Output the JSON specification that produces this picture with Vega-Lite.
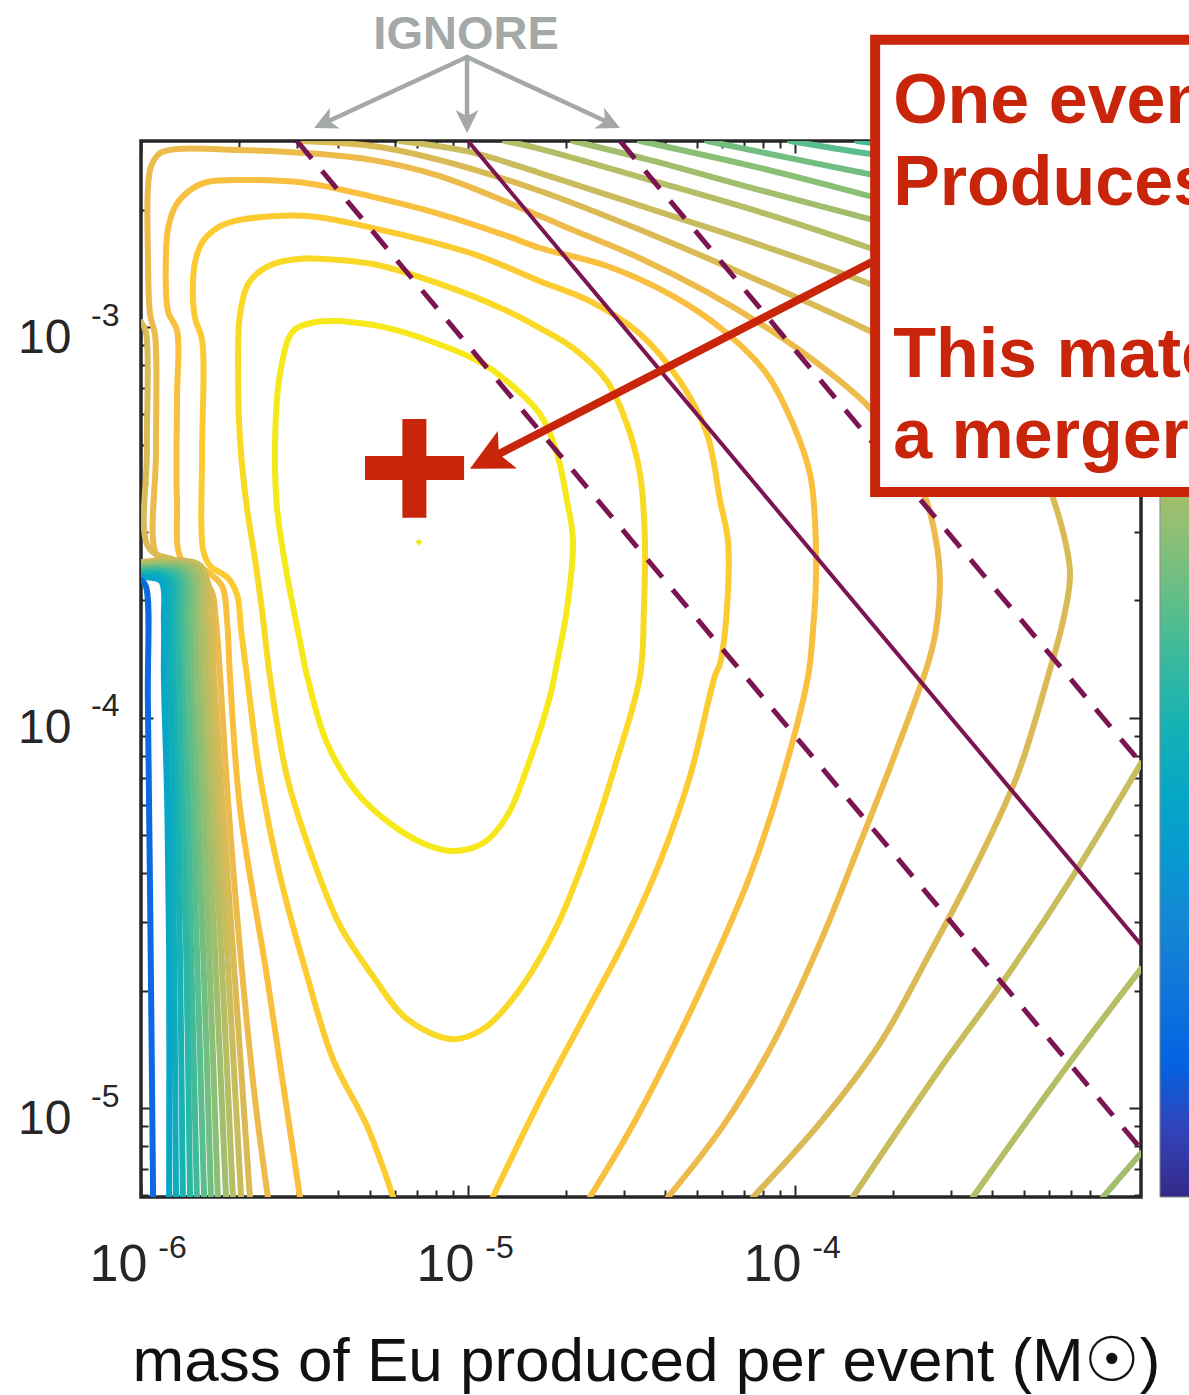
{
  "$schema": "https://vega.github.io/schema/vega-lite/v6.json",
  "width": 1000,
  "height": 1056,
  "autosize": {"type": "none"},
  "padding": {"left": 141, "top": 141, "right": 48, "bottom": 198},
  "background": "white",
  "config": {
    "view": {"stroke": "#262626", "strokeWidth": 3.5},
    "axis": {"domain": false, "grid": false, "labelFont": "Liberation Sans", "titleFont": "Liberation Sans", "labelColor": "#262626", "tickColor": "#262626", "tickWidth": 2, "labelFlush": false, "labelOverlap": false, "labelBound": false},
    "text": {"font": "Liberation Sans"}
  },
  "datasets": {
    "contours": [
      {"c":"C1","lv":0.96,"m":-5.391,"r":-2.984},{"c":"C1","lv":0.96,"m":-5.260,"r":-2.999},{"c":"C1","lv":0.96,"m":-5.116,"r":-3.035},{"c":"C1","lv":0.96,"m":-4.963,"r":-3.089},{"c":"C1","lv":0.96,"m":-4.881,"r":-3.138},{"c":"C1","lv":0.96,"m":-4.780,"r":-3.222},{"c":"C1","lv":0.96,"m":-4.731,"r":-3.314},{"c":"C1","lv":0.96,"m":-4.697,"r":-3.445},{"c":"C1","lv":0.96,"m":-4.679,"r":-3.547},{"c":"C1","lv":0.96,"m":-4.697,"r":-3.719},{"c":"C1","lv":0.96,"m":-4.728,"r":-3.860},{"c":"C1","lv":0.96,"m":-4.749,"r":-3.944},{"c":"C1","lv":0.96,"m":-4.810,"r":-4.106},{"c":"C1","lv":0.96,"m":-4.881,"r":-4.252},{"c":"C1","lv":0.96,"m":-4.954,"r":-4.321},{"c":"C1","lv":0.96,"m":-5.049,"r":-4.341},{"c":"C1","lv":0.96,"m":-5.138,"r":-4.321},{"c":"C1","lv":0.96,"m":-5.239,"r":-4.270},{"c":"C1","lv":0.96,"m":-5.339,"r":-4.193},{"c":"C1","lv":0.96,"m":-5.431,"r":-4.065},{"c":"C1","lv":0.96,"m":-5.492,"r":-3.893},{"c":"C1","lv":0.96,"m":-5.514,"r":-3.803},{"c":"C1","lv":0.96,"m":-5.554,"r":-3.632},{"c":"C1","lv":0.96,"m":-5.584,"r":-3.463},{"c":"C1","lv":0.96,"m":-5.590,"r":-3.291},{"c":"C1","lv":0.96,"m":-5.575,"r":-3.120},{"c":"C1","lv":0.96,"m":-5.535,"r":-3.010},{"c":"C1","lv":0.96,"m":-5.468,"r":-2.987},{"c":"C1","lv":0.96,"m":-5.391,"r":-2.984},

      {"c":"C2","lv":0.92,"m":-5.492,"r":-2.823},{"c":"C2","lv":0.92,"m":-5.291,"r":-2.838},{"c":"C2","lv":0.92,"m":-5.086,"r":-2.889},{"c":"C2","lv":0.92,"m":-4.881,"r":-2.958},{"c":"C2","lv":0.92,"m":-4.780,"r":-3.002},{"c":"C2","lv":0.92,"m":-4.679,"r":-3.053},{"c":"C2","lv":0.92,"m":-4.575,"r":-3.138},{"c":"C2","lv":0.92,"m":-4.514,"r":-3.248},{"c":"C2","lv":0.92,"m":-4.474,"r":-3.376},{"c":"C2","lv":0.92,"m":-4.459,"r":-3.547},{"c":"C2","lv":0.92,"m":-4.462,"r":-3.719},{"c":"C2","lv":0.92,"m":-4.474,"r":-3.893},{"c":"C2","lv":0.92,"m":-4.544,"r":-4.106},{"c":"C2","lv":0.92,"m":-4.627,"r":-4.321},{"c":"C2","lv":0.92,"m":-4.728,"r":-4.533},{"c":"C2","lv":0.92,"m":-4.850,"r":-4.705},{"c":"C2","lv":0.92,"m":-4.954,"r":-4.797},{"c":"C2","lv":0.92,"m":-5.049,"r":-4.823},{"c":"C2","lv":0.92,"m":-5.187,"r":-4.771},{"c":"C2","lv":0.92,"m":-5.291,"r":-4.661},{"c":"C2","lv":0.92,"m":-5.391,"r":-4.533},{"c":"C2","lv":0.92,"m":-5.474,"r":-4.362},{"c":"C2","lv":0.92,"m":-5.554,"r":-4.149},{"c":"C2","lv":0.92,"m":-5.606,"r":-3.893},{"c":"C2","lv":0.92,"m":-5.630,"r":-3.724},{"c":"C2","lv":0.92,"m":-5.651,"r":-3.596},{"c":"C2","lv":0.92,"m":-5.676,"r":-3.463},{"c":"C2","lv":0.92,"m":-5.697,"r":-3.291},{"c":"C2","lv":0.92,"m":-5.703,"r":-3.120},{"c":"C2","lv":0.92,"m":-5.697,"r":-2.966},{"c":"C2","lv":0.92,"m":-5.667,"r":-2.882},{"c":"C2","lv":0.92,"m":-5.596,"r":-2.838},{"c":"C2","lv":0.92,"m":-5.492,"r":-2.823},

      {"c":"C3","lv":0.88,"m":-5.229,"r":-5.227},{"c":"C3","lv":0.88,"m":-5.309,"r":-5.045},{"c":"C3","lv":0.88,"m":-5.413,"r":-4.874},{"c":"C3","lv":0.88,"m":-5.492,"r":-4.661},{"c":"C3","lv":0.88,"m":-5.575,"r":-4.405},{"c":"C3","lv":0.88,"m":-5.636,"r":-4.149},{"c":"C3","lv":0.88,"m":-5.676,"r":-3.893},{"c":"C3","lv":0.88,"m":-5.694,"r":-3.775},{"c":"C3","lv":0.88,"m":-5.706,"r":-3.686},{"c":"C3","lv":0.88,"m":-5.734,"r":-3.642},{"c":"C3","lv":0.88,"m":-5.789,"r":-3.611},{"c":"C3","lv":0.88,"m":-5.810,"r":-3.570},{"c":"C3","lv":0.88,"m":-5.813,"r":-3.314},{"c":"C3","lv":0.88,"m":-5.813,"r":-3.033},{"c":"C3","lv":0.88,"m":-5.835,"r":-2.976},{"c":"C3","lv":0.88,"m":-5.841,"r":-2.882},{"c":"C3","lv":0.88,"m":-5.832,"r":-2.823},{"c":"C3","lv":0.88,"m":-5.810,"r":-2.779},{"c":"C3","lv":0.88,"m":-5.758,"r":-2.741},{"c":"C3","lv":0.88,"m":-5.697,"r":-2.725},{"c":"C3","lv":0.88,"m":-5.492,"r":-2.715},{"c":"C3","lv":0.88,"m":-5.291,"r":-2.746},{"c":"C3","lv":0.88,"m":-4.985,"r":-2.812},{"c":"C3","lv":0.88,"m":-4.780,"r":-2.882},{"c":"C3","lv":0.88,"m":-4.627,"r":-2.933},{"c":"C3","lv":0.88,"m":-4.474,"r":-3.017},{"c":"C3","lv":0.88,"m":-4.352,"r":-3.138},{"c":"C3","lv":0.88,"m":-4.269,"r":-3.273},{"c":"C3","lv":0.88,"m":-4.229,"r":-3.445},{"c":"C3","lv":0.88,"m":-4.205,"r":-3.547},{"c":"C3","lv":0.88,"m":-4.208,"r":-3.719},{"c":"C3","lv":0.88,"m":-4.229,"r":-3.860},{"c":"C3","lv":0.88,"m":-4.245,"r":-3.893},{"c":"C3","lv":0.88,"m":-4.321,"r":-4.149},{"c":"C3","lv":0.88,"m":-4.413,"r":-4.369},{"c":"C3","lv":0.88,"m":-4.520,"r":-4.569},{"c":"C3","lv":0.88,"m":-4.642,"r":-4.761},{"c":"C3","lv":0.88,"m":-4.780,"r":-4.979},{"c":"C3","lv":0.88,"m":-4.924,"r":-5.227},

      {"c":"C4","lv":0.84,"m":-5.514,"r":-5.227},{"c":"C4","lv":0.84,"m":-5.554,"r":-5.002},{"c":"C4","lv":0.84,"m":-5.615,"r":-4.661},{"c":"C4","lv":0.84,"m":-5.697,"r":-4.234},{"c":"C4","lv":0.84,"m":-5.728,"r":-3.893},{"c":"C4","lv":0.84,"m":-5.737,"r":-3.750},{"c":"C4","lv":0.84,"m":-5.752,"r":-3.663},{"c":"C4","lv":0.84,"m":-5.804,"r":-3.622},{"c":"C4","lv":0.84,"m":-5.875,"r":-3.596},{"c":"C4","lv":0.84,"m":-5.890,"r":-3.442},{"c":"C4","lv":0.84,"m":-5.890,"r":-3.186},{"c":"C4","lv":0.84,"m":-5.890,"r":-3.007},{"c":"C4","lv":0.84,"m":-5.917,"r":-2.961},{"c":"C4","lv":0.84,"m":-5.924,"r":-2.828},{"c":"C4","lv":0.84,"m":-5.917,"r":-2.746},{"c":"C4","lv":0.84,"m":-5.893,"r":-2.687},{"c":"C4","lv":0.84,"m":-5.850,"r":-2.649},{"c":"C4","lv":0.84,"m":-5.798,"r":-2.628},{"c":"C4","lv":0.84,"m":-5.667,"r":-2.623},{"c":"C4","lv":0.84,"m":-5.492,"r":-2.631},{"c":"C4","lv":0.84,"m":-5.291,"r":-2.666},{"c":"C4","lv":0.84,"m":-5.086,"r":-2.710},{"c":"C4","lv":0.84,"m":-4.881,"r":-2.766},{"c":"C4","lv":0.84,"m":-4.780,"r":-2.797},{"c":"C4","lv":0.84,"m":-4.575,"r":-2.843},{"c":"C4","lv":0.84,"m":-4.373,"r":-2.920},{"c":"C4","lv":0.84,"m":-4.220,"r":-3.007},{"c":"C4","lv":0.84,"m":-4.086,"r":-3.120},{"c":"C4","lv":0.84,"m":-4.006,"r":-3.248},{"c":"C4","lv":0.84,"m":-3.954,"r":-3.376},{"c":"C4","lv":0.84,"m":-3.939,"r":-3.494},{"c":"C4","lv":0.84,"m":-3.936,"r":-3.647},{"c":"C4","lv":0.84,"m":-3.945,"r":-3.775},{"c":"C4","lv":0.84,"m":-3.960,"r":-3.893},{"c":"C4","lv":0.84,"m":-4.037,"r":-4.149},{"c":"C4","lv":0.84,"m":-4.138,"r":-4.405},{"c":"C4","lv":0.84,"m":-4.269,"r":-4.661},{"c":"C4","lv":0.84,"m":-4.391,"r":-4.874},{"c":"C4","lv":0.84,"m":-4.505,"r":-5.056},{"c":"C4","lv":0.84,"m":-4.627,"r":-5.227},

      {"c":"C5","lv":0.80,"m":-5.612,"r":-5.227},{"c":"C5","lv":0.80,"m":-5.651,"r":-4.979},{"c":"C5","lv":0.80,"m":-5.697,"r":-4.595},{"c":"C5","lv":0.80,"m":-5.734,"r":-4.211},{"c":"C5","lv":0.80,"m":-5.758,"r":-3.893},{"c":"C5","lv":0.80,"m":-5.771,"r":-3.750},{"c":"C5","lv":0.80,"m":-5.783,"r":-3.678},{"c":"C5","lv":0.80,"m":-5.820,"r":-3.637},{"c":"C5","lv":0.80,"m":-5.896,"r":-3.611},{"c":"C5","lv":0.80,"m":-5.951,"r":-3.586},{"c":"C5","lv":0.80,"m":-5.954,"r":-3.314},{"c":"C5","lv":0.80,"m":-5.957,"r":-3.020},{"c":"C5","lv":0.80,"m":-5.972,"r":-2.969},{"c":"C5","lv":0.80,"m":-5.979,"r":-2.802},{"c":"C5","lv":0.80,"m":-5.979,"r":-2.649},{"c":"C5","lv":0.80,"m":-5.969,"r":-2.587},{"c":"C5","lv":0.80,"m":-5.942,"r":-2.554},{"c":"C5","lv":0.80,"m":-5.896,"r":-2.544},{"c":"C5","lv":0.80,"m":-5.697,"r":-2.546},{"c":"C5","lv":0.80,"m":-5.492,"r":-2.554},{"c":"C5","lv":0.80,"m":-5.291,"r":-2.572},{"c":"C5","lv":0.80,"m":-5.086,"r":-2.613},{"c":"C5","lv":0.80,"m":-4.780,"r":-2.715},{"c":"C5","lv":0.80,"m":-4.679,"r":-2.751},{"c":"C5","lv":0.80,"m":-4.474,"r":-2.823},{"c":"C5","lv":0.80,"m":-4.269,"r":-2.910},{"c":"C5","lv":0.80,"m":-4.076,"r":-3.007},{"c":"C5","lv":0.80,"m":-3.924,"r":-3.097},{"c":"C5","lv":0.80,"m":-3.771,"r":-3.207},{"c":"C5","lv":0.80,"m":-3.679,"r":-3.314},{"c":"C5","lv":0.80,"m":-3.602,"r":-3.435},{"c":"C5","lv":0.80,"m":-3.569,"r":-3.545},{"c":"C5","lv":0.80,"m":-3.557,"r":-3.647},{"c":"C5","lv":0.80,"m":-3.569,"r":-3.775},{"c":"C5","lv":0.80,"m":-3.593,"r":-3.860},{"c":"C5","lv":0.80,"m":-3.700,"r":-4.106},{"c":"C5","lv":0.80,"m":-3.801,"r":-4.321},{"c":"C5","lv":0.80,"m":-3.924,"r":-4.577},{"c":"C5","lv":0.80,"m":-4.067,"r":-4.833},{"c":"C5","lv":0.80,"m":-4.220,"r":-5.045},{"c":"C5","lv":0.80,"m":-4.388,"r":-5.227},

      {"c":"C6t","lv":0.765,"m":-5.514,"r":-2.523},{"c":"C6t","lv":0.765,"m":-5.291,"r":-2.536},{"c":"C6t","lv":0.765,"m":-5.086,"r":-2.572},{"c":"C6t","lv":0.765,"m":-4.780,"r":-2.651},{"c":"C6t","lv":0.765,"m":-4.443,"r":-2.761},{"c":"C6t","lv":0.765,"m":-4.107,"r":-2.882},{"c":"C6t","lv":0.765,"m":-3.771,"r":-3.010},{"c":"C6t","lv":0.765,"m":-3.557,"r":-3.109},{"c":"C6t","lv":0.765,"m":-3.373,"r":-3.238},{"c":"C6t","lv":0.765,"m":-3.251,"r":-3.360},{"c":"C6t","lv":0.765,"m":-3.190,"r":-3.494},{"c":"C6t","lv":0.765,"m":-3.159,"r":-3.632},{"c":"C6t","lv":0.765,"m":-3.180,"r":-3.750},{"c":"C6t","lv":0.765,"m":-3.226,"r":-3.893},{"c":"C6t","lv":0.765,"m":-3.321,"r":-4.149},{"c":"C6t","lv":0.765,"m":-3.443,"r":-4.372},{"c":"C6t","lv":0.765,"m":-3.587,"r":-4.602},{"c":"C6t","lv":0.765,"m":-3.740,"r":-4.833},{"c":"C6t","lv":0.765,"m":-3.924,"r":-5.038},{"c":"C6t","lv":0.765,"m":-4.128,"r":-5.227},

      {"c":"C6l","lv":0.765,"m":-6.000,"r":-2.987},{"c":"C6l","lv":0.765,"m":-5.985,"r":-3.012},{"c":"C6l","lv":0.765,"m":-5.982,"r":-3.314},{"c":"C6l","lv":0.765,"m":-5.976,"r":-3.565},{"c":"C6l","lv":0.765,"m":-5.896,"r":-3.596},{"c":"C6l","lv":0.765,"m":-5.820,"r":-3.617},{"c":"C6l","lv":0.765,"m":-5.789,"r":-3.673},{"c":"C6l","lv":0.765,"m":-5.777,"r":-3.893},{"c":"C6l","lv":0.765,"m":-5.752,"r":-4.211},{"c":"C6l","lv":0.765,"m":-5.719,"r":-4.595},{"c":"C6l","lv":0.765,"m":-5.667,"r":-5.227},

      {"c":"C7l","lv":0.73,"m":-6.000,"r":-3.601},{"c":"C7l","lv":0.73,"m":-5.817,"r":-3.611},{"c":"C7l","lv":0.73,"m":-5.798,"r":-3.750},{"c":"C7l","lv":0.73,"m":-5.789,"r":-3.893},{"c":"C7l","lv":0.73,"m":-5.768,"r":-4.211},{"c":"C7l","lv":0.73,"m":-5.737,"r":-4.595},{"c":"C7l","lv":0.73,"m":-5.694,"r":-5.227},
      {"c":"C8l","lv":0.695,"m":-6.000,"r":-3.606},{"c":"C8l","lv":0.695,"m":-5.829,"r":-3.617},{"c":"C8l","lv":0.695,"m":-5.810,"r":-3.750},{"c":"C8l","lv":0.695,"m":-5.804,"r":-3.893},{"c":"C8l","lv":0.695,"m":-5.783,"r":-4.211},{"c":"C8l","lv":0.695,"m":-5.755,"r":-4.595},{"c":"C8l","lv":0.695,"m":-5.719,"r":-5.227},
      {"c":"C9l","lv":0.66,"m":-6.000,"r":-3.609},{"c":"C9l","lv":0.66,"m":-5.841,"r":-3.619},{"c":"C9l","lv":0.66,"m":-5.826,"r":-3.750},{"c":"C9l","lv":0.66,"m":-5.820,"r":-3.893},{"c":"C9l","lv":0.66,"m":-5.798,"r":-4.211},{"c":"C9l","lv":0.66,"m":-5.774,"r":-4.595},{"c":"C9l","lv":0.66,"m":-5.740,"r":-5.227},
      {"c":"C10l","lv":0.625,"m":-6.000,"r":-3.614},{"c":"C10l","lv":0.625,"m":-5.853,"r":-3.624},{"c":"C10l","lv":0.625,"m":-5.838,"r":-3.750},{"c":"C10l","lv":0.625,"m":-5.832,"r":-3.893},{"c":"C10l","lv":0.625,"m":-5.813,"r":-4.211},{"c":"C10l","lv":0.625,"m":-5.792,"r":-4.595},{"c":"C10l","lv":0.625,"m":-5.765,"r":-5.227},
      {"c":"C11l","lv":0.59,"m":-6.000,"r":-3.617},{"c":"C11l","lv":0.59,"m":-5.865,"r":-3.627},{"c":"C11l","lv":0.59,"m":-5.850,"r":-3.750},{"c":"C11l","lv":0.59,"m":-5.847,"r":-3.893},{"c":"C11l","lv":0.59,"m":-5.829,"r":-4.211},{"c":"C11l","lv":0.59,"m":-5.810,"r":-4.595},{"c":"C11l","lv":0.59,"m":-5.786,"r":-5.227},
      {"c":"C12l","lv":0.555,"m":-6.000,"r":-3.622},{"c":"C12l","lv":0.555,"m":-5.878,"r":-3.632},{"c":"C12l","lv":0.555,"m":-5.865,"r":-3.750},{"c":"C12l","lv":0.555,"m":-5.859,"r":-3.893},{"c":"C12l","lv":0.555,"m":-5.844,"r":-4.211},{"c":"C12l","lv":0.555,"m":-5.829,"r":-4.595},{"c":"C12l","lv":0.555,"m":-5.807,"r":-5.227},
      {"c":"C13l","lv":0.52,"m":-6.000,"r":-3.624},{"c":"C13l","lv":0.52,"m":-5.890,"r":-3.634},{"c":"C13l","lv":0.52,"m":-5.878,"r":-3.750},{"c":"C13l","lv":0.52,"m":-5.875,"r":-3.893},{"c":"C13l","lv":0.52,"m":-5.859,"r":-4.211},{"c":"C13l","lv":0.52,"m":-5.847,"r":-4.595},{"c":"C13l","lv":0.52,"m":-5.829,"r":-5.227},
      {"c":"C14l","lv":0.485,"m":-6.000,"r":-3.629},{"c":"C14l","lv":0.485,"m":-5.902,"r":-3.640},{"c":"C14l","lv":0.485,"m":-5.890,"r":-3.750},{"c":"C14l","lv":0.485,"m":-5.887,"r":-3.893},{"c":"C14l","lv":0.485,"m":-5.875,"r":-4.211},{"c":"C14l","lv":0.485,"m":-5.862,"r":-4.595},{"c":"C14l","lv":0.485,"m":-5.850,"r":-5.227},
      {"c":"C15l","lv":0.45,"m":-6.000,"r":-3.632},{"c":"C15l","lv":0.45,"m":-5.914,"r":-3.642},{"c":"C15l","lv":0.45,"m":-5.905,"r":-3.750},{"c":"C15l","lv":0.45,"m":-5.902,"r":-3.893},{"c":"C15l","lv":0.45,"m":-5.890,"r":-4.211},{"c":"C15l","lv":0.45,"m":-5.881,"r":-4.595},{"c":"C15l","lv":0.45,"m":-5.872,"r":-5.227},
      {"c":"C16l","lv":0.415,"m":-6.000,"r":-3.637},{"c":"C16l","lv":0.415,"m":-5.927,"r":-3.647},{"c":"C16l","lv":0.415,"m":-5.917,"r":-3.750},{"c":"C16l","lv":0.415,"m":-5.914,"r":-3.893},{"c":"C16l","lv":0.415,"m":-5.905,"r":-4.211},{"c":"C16l","lv":0.415,"m":-5.899,"r":-4.595},{"c":"C16l","lv":0.415,"m":-5.893,"r":-5.227},
      {"c":"C17l","lv":0.38,"m":-6.000,"r":-3.640},{"c":"C17l","lv":0.38,"m":-5.939,"r":-3.650},{"c":"C17l","lv":0.38,"m":-5.930,"r":-3.750},{"c":"C17l","lv":0.38,"m":-5.930,"r":-3.893},{"c":"C17l","lv":0.38,"m":-5.920,"r":-4.211},{"c":"C17l","lv":0.38,"m":-5.914,"r":-4.595},{"c":"C17l","lv":0.38,"m":-5.914,"r":-5.227},
      {"c":"C18l","lv":0.16,"m":-6.000,"r":-3.647},{"c":"C18l","lv":0.16,"m":-5.985,"r":-3.663},{"c":"C18l","lv":0.16,"m":-5.979,"r":-3.955},{"c":"C18l","lv":0.16,"m":-5.972,"r":-4.467},{"c":"C18l","lv":0.16,"m":-5.963,"r":-5.227},

      {"c":"C7t","lv":0.73,"m":-5.208,"r":-2.523},{"c":"C7t","lv":0.73,"m":-4.994,"r":-2.551},{"c":"C7t","lv":0.73,"m":-4.780,"r":-2.605},{"c":"C7t","lv":0.73,"m":-4.443,"r":-2.697},{"c":"C7t","lv":0.73,"m":-4.107,"r":-2.789},{"c":"C7t","lv":0.73,"m":-3.771,"r":-2.889},{"c":"C7t","lv":0.73,"m":-3.373,"r":-3.033},{"c":"C7t","lv":0.73,"m":-2.942,"r":-3.238},
      {"c":"C7b","lv":0.73,"m":-2.942,"r":-4.116},{"c":"C7b","lv":0.73,"m":-3.150,"r":-4.405},{"c":"C7b","lv":0.73,"m":-3.352,"r":-4.661},{"c":"C7b","lv":0.73,"m":-3.557,"r":-4.899},{"c":"C7b","lv":0.73,"m":-3.823,"r":-5.227},
      {"c":"C8t","lv":0.695,"m":-4.887,"r":-2.523},{"c":"C8t","lv":0.695,"m":-4.780,"r":-2.543},{"c":"C8t","lv":0.695,"m":-4.443,"r":-2.623},{"c":"C8t","lv":0.695,"m":-4.107,"r":-2.705},{"c":"C8t","lv":0.695,"m":-3.771,"r":-2.797},{"c":"C8t","lv":0.695,"m":-3.373,"r":-2.917},{"c":"C8t","lv":0.695,"m":-2.942,"r":-3.058},
      {"c":"C8b","lv":0.695,"m":-2.942,"r":-4.643},{"c":"C8b","lv":0.695,"m":-3.168,"r":-4.892},{"c":"C8b","lv":0.695,"m":-3.456,"r":-5.227},
      {"c":"C9t","lv":0.66,"m":-4.679,"r":-2.523},{"c":"C9t","lv":0.66,"m":-4.443,"r":-2.572},{"c":"C9t","lv":0.66,"m":-4.107,"r":-2.649},{"c":"C9t","lv":0.66,"m":-3.771,"r":-2.723},{"c":"C9t","lv":0.66,"m":-3.373,"r":-2.815},{"c":"C9t","lv":0.66,"m":-2.942,"r":-2.930},
      {"c":"C9b","lv":0.66,"m":-2.942,"r":-5.115},{"c":"C9b","lv":0.66,"m":-3.058,"r":-5.227},
      {"c":"C10t","lv":0.625,"m":-4.474,"r":-2.523},{"c":"C10t","lv":0.625,"m":-4.107,"r":-2.592},{"c":"C10t","lv":0.625,"m":-3.771,"r":-2.664},{"c":"C10t","lv":0.625,"m":-3.373,"r":-2.751},{"c":"C10t","lv":0.625,"m":-2.942,"r":-2.841},
      {"c":"C11t","lv":0.59,"m":-4.269,"r":-2.523},{"c":"C11t","lv":0.59,"m":-4.015,"r":-2.567},{"c":"C11t","lv":0.59,"m":-3.771,"r":-2.608},{"c":"C11t","lv":0.59,"m":-3.373,"r":-2.674},{"c":"C11t","lv":0.59,"m":-2.942,"r":-2.746},
      {"c":"C12t","lv":0.555,"m":-4.015,"r":-2.523},{"c":"C12t","lv":0.555,"m":-3.771,"r":-2.556},{"c":"C12t","lv":0.555,"m":-3.373,"r":-2.602},{"c":"C12t","lv":0.555,"m":-2.942,"r":-2.654},
      {"c":"C13t","lv":0.52,"m":-3.810,"r":-2.523},{"c":"C13t","lv":0.52,"m":-3.373,"r":-2.567},{"c":"C13t","lv":0.52,"m":-2.942,"r":-2.602}
    ],
    "guides": [
      {"k":"solid","m":-5.0,"r":-2.523},{"k":"solid","m":-2.942,"r":-4.581},
      {"k":"dashL","m":-5.523,"r":-2.523},{"k":"dashL","m":-2.942,"r":-5.104},
      {"k":"dashR","m":-4.535,"r":-2.523},{"k":"dashR","m":-2.942,"r":-4.116}
    ],
    "peak": [{"m":-5.150,"r":-3.550}],
    "best": [
      {"bar":"h","m0":-5.315,"m1":-5.012,"r0":-3.360,"r1":-3.360},
      {"bar":"v","m0":-5.164,"m1":-5.164,"r0":-3.235,"r1":-3.488}
    ],
    "pointer": [{"m0":-3.765,"r0":-2.833,"m1":-4.937,"r1":-3.338,"heading":243}],
    "ignore": [
      {"a":"L","m0":-5.003,"r0":-2.308,"m1":-5.439,"r1":-2.477,"heading":245},
      {"a":"M","m0":-5.003,"r0":-2.308,"m1":-5.003,"r1":-2.473,"heading":180},
      {"a":"R","m0":-5.003,"r0":-2.308,"m1":-4.567,"r1":-2.477,"heading":115}
    ],
    "ignoreLabel": [{"t":"IGNORE","m":-5.006,"r":-2.287}],
    "colorbar": [{"m0":-2.884,"m1":-2.746,"r0":-5.227,"r1":-2.523}],
    "box": [{"m0":-3.755,"m1":-2.456,"r0":-2.264,"r1":-3.422}],
    "boxText": [
      {"t":"One event","m":-3.700,"r":-2.477},
      {"t":"Produces","m":-3.700,"r":-2.687},
      {"t":"This matches","m":-3.700,"r":-3.127},
      {"t":"a merger","m":-3.700,"r":-3.335}
    ]
  },
  "layer": [
    {
      "data": {"name": "contours"},
      "mark": {"type": "line", "strokeWidth": 6, "strokeJoin": "round", "strokeCap": "round", "interpolate": "catmull-rom", "clip": true},
      "encoding": {
        "x": {"field": "m", "type": "quantitative", "scale": {"domain": [-6, -2.942], "nice": false, "zero": false},
          "axis": {"orient": "bottom",
            "values": [-6,-5.699,-5.523,-5.398,-5.301,-5.222,-5.155,-5.097,-5.046,-5,-4.699,-4.523,-4.398,-4.301,-4.222,-4.155,-4.097,-4.046,-4,-3.699,-3.523,-3.398,-3.301,-3.222,-3.155,-3.097,-3.046],
            "labelExpr": "datum.value % 1 == 0 ? '10' : ''",
            "labelFontSize": 52, "labelAlign": "center", "labelBaseline": "alphabetic", "labelOffset": -23, "labelPadding": 95,
            "tickSize": {"condition": {"test": "datum.value % 1 == 0", "value": -12}, "value": -7},
            "title": "mass of Eu produced per event (M☉)", "titleFontSize": 62, "titleFontWeight": "normal", "titleColor": "#111111",
            "titleBaseline": "alphabetic", "titleY": 183, "titleX": 505}},
        "y": {"field": "r", "type": "quantitative", "scale": {"domain": [-5.227, -2.523], "nice": false, "zero": false},
          "axis": {"orient": "left",
            "values": [-5.222,-5.155,-5.097,-5.046,-5,-4.699,-4.523,-4.398,-4.301,-4.222,-4.155,-4.097,-4.046,-4,-3.699,-3.523,-3.398,-3.301,-3.222,-3.155,-3.097,-3.046,-3,-2.699],
            "labelExpr": "datum.value % 1 == 0 ? '10' : ''",
            "labelFontSize": 48, "labelAlign": "right", "labelBaseline": "alphabetic", "labelOffset": 25, "labelPadding": 82,
            "tickSize": {"condition": {"test": "datum.value % 1 == 0", "value": -12}, "value": -7},
            "title": null}},
        "detail": {"field": "c"},
        "color": {"field": "lv", "type": "quantitative", "legend": null,
          "scale": {"type": "linear", "interpolate": "rgb",
            "domain": [0,0.0635,0.127,0.1905,0.254,0.3175,0.381,0.4445,0.508,0.5715,0.635,0.698,0.762,0.825,0.889,0.952,1],
            "range": ["#352A87","#3243BA","#0363E1","#0D75DC","#1485D4","#0998D1","#06A7C6","#15B1B4","#38B99E","#65BE86","#92BF73","#B7BD64","#D9BA56","#F8BB44","#FCCE2E","#F5E41D","#F9FB0E"]}},
        "order": {"value": null}
      }
    },
    {
      "data": {"name": "guides"},
      "transform": [{"filter": "datum.k == 'solid'"}],
      "mark": {"type": "line", "color": "#7B1552", "strokeWidth": 4, "clip": true},
      "encoding": {
        "x": {"field": "m", "type": "quantitative", "scale": {"domain": [-6, -2.942], "nice": false, "zero": false},
          "axis": {"orient": "top", "labels": false, "title": null,
            "values": [-6,-5.699,-5.523,-5.398,-5.301,-5.222,-5.155,-5.097,-5.046,-5,-4.699,-4.523,-4.398,-4.301,-4.222,-4.155,-4.097,-4.046,-4,-3.699,-3.523,-3.398,-3.301,-3.222,-3.155,-3.097,-3.046],
            "tickSize": {"condition": {"test": "datum.value % 1 == 0", "value": -12}, "value": -7}}},
        "y": {"field": "r", "type": "quantitative", "scale": {"domain": [-5.227, -2.523], "nice": false, "zero": false},
          "axis": {"orient": "right", "labels": false, "title": null,
            "values": [-5.222,-5.155,-5.097,-5.046,-5,-4.699,-4.523,-4.398,-4.301,-4.222,-4.155,-4.097,-4.046,-4,-3.699,-3.523,-3.398,-3.301,-3.222,-3.155,-3.097,-3.046,-3,-2.699],
            "tickSize": {"condition": {"test": "datum.value % 1 == 0", "value": -12}, "value": -7}}}
      }
    },
    {
      "data": {"name": "guides"},
      "transform": [{"filter": "datum.k != 'solid'"}],
      "mark": {"type": "line", "color": "#7B1552", "strokeWidth": 5, "strokeDash": [23, 16], "clip": true},
      "encoding": {
        "x": {"field": "m", "type": "quantitative", "scale": {"domain": [-6, -2.942], "nice": false, "zero": false}, "axis": null},
        "y": {"field": "r", "type": "quantitative", "scale": {"domain": [-5.227, -2.523], "nice": false, "zero": false}, "axis": null},
        "detail": {"field": "k"}
      }
    },
    {
      "data": {"name": "peak"},
      "mark": {"type": "point", "shape": "diamond", "filled": true, "size": 45, "color": "#F2E61C", "opacity": 1},
      "encoding": {
        "x": {"field": "m", "type": "quantitative", "scale": {"domain": [-6, -2.942], "nice": false, "zero": false},
          "axis": {"orient": "bottom", "values": [-6, -5, -4], "labelExpr": "'' + datum.value", "ticks": false,
            "labelFontSize": 32, "labelAlign": "center", "labelBaseline": "alphabetic", "labelOffset": 31, "labelPadding": 60, "title": null}},
        "y": {"field": "r", "type": "quantitative", "scale": {"domain": [-5.227, -2.523], "nice": false, "zero": false},
          "axis": {"orient": "left", "values": [-5, -4, -3], "labelExpr": "'' + datum.value", "ticks": false,
            "labelFontSize": 32, "labelAlign": "right", "labelBaseline": "alphabetic", "labelOffset": -2, "labelPadding": 22, "title": null}}
      }
    },
    {
      "data": {"name": "colorbar"},
      "mark": {"type": "rect", "stroke": "#8c8c8c", "strokeWidth": 1,
        "fill": {"gradient": "linear", "x1": 0, "y1": 1, "x2": 0, "y2": 0,
          "stops": [
            {"offset": 0, "color": "#352A87"}, {"offset": 0.0635, "color": "#3243BA"}, {"offset": 0.127, "color": "#0363E1"},
            {"offset": 0.1905, "color": "#0D75DC"}, {"offset": 0.254, "color": "#1485D4"}, {"offset": 0.3175, "color": "#0998D1"},
            {"offset": 0.381, "color": "#06A7C6"}, {"offset": 0.4445, "color": "#15B1B4"}, {"offset": 0.508, "color": "#38B99E"},
            {"offset": 0.5715, "color": "#65BE86"}, {"offset": 0.635, "color": "#92BF73"}, {"offset": 0.698, "color": "#B7BD64"},
            {"offset": 0.762, "color": "#D9BA56"}, {"offset": 0.825, "color": "#F8BB44"}, {"offset": 0.889, "color": "#FCCE2E"},
            {"offset": 0.952, "color": "#F5E41D"}, {"offset": 1, "color": "#F9FB0E"}]}},
      "encoding": {
        "x": {"field": "m0", "type": "quantitative", "scale": {"domain": [-6, -2.942], "nice": false, "zero": false}, "axis": null},
        "x2": {"field": "m1"},
        "y": {"field": "r0", "type": "quantitative", "scale": {"domain": [-5.227, -2.523], "nice": false, "zero": false}, "axis": null},
        "y2": {"field": "r1"}
      }
    },
    {
      "data": {"name": "best"},
      "mark": {"type": "rule", "color": "#C8250A", "strokeWidth": 24, "strokeCap": "butt"},
      "encoding": {
        "x": {"field": "m0", "type": "quantitative", "scale": {"domain": [-6, -2.942], "nice": false, "zero": false}, "axis": null},
        "x2": {"field": "m1"},
        "y": {"field": "r0", "type": "quantitative", "scale": {"domain": [-5.227, -2.523], "nice": false, "zero": false}, "axis": null},
        "y2": {"field": "r1"}
      }
    },
    {
      "data": {"name": "pointer"},
      "mark": {"type": "rule", "color": "#C8250A", "strokeWidth": 8, "strokeCap": "butt"},
      "encoding": {
        "x": {"field": "m0", "type": "quantitative", "scale": {"domain": [-6, -2.942], "nice": false, "zero": false}, "axis": null},
        "x2": {"field": "m1"},
        "y": {"field": "r0", "type": "quantitative", "scale": {"domain": [-5.227, -2.523], "nice": false, "zero": false}, "axis": null},
        "y2": {"field": "r1"}
      }
    },
    {
      "data": {"name": "pointer"},
      "mark": {"type": "point", "shape": "M0,-1L1,1L0,0.55L-1,1Z", "filled": true, "size": 1764, "color": "#C8250A", "opacity": 1},
      "encoding": {
        "x": {"field": "m1", "type": "quantitative", "scale": {"domain": [-6, -2.942], "nice": false, "zero": false}, "axis": null},
        "y": {"field": "r1", "type": "quantitative", "scale": {"domain": [-5.227, -2.523], "nice": false, "zero": false}, "axis": null},
        "angle": {"field": "heading", "type": "quantitative", "scale": null}
      }
    },
    {
      "data": {"name": "ignore"},
      "mark": {"type": "rule", "color": "#A4A8A6", "strokeWidth": 4.5, "strokeCap": "round"},
      "encoding": {
        "x": {"field": "m0", "type": "quantitative", "scale": {"domain": [-6, -2.942], "nice": false, "zero": false}, "axis": null},
        "x2": {"field": "m1"},
        "y": {"field": "r0", "type": "quantitative", "scale": {"domain": [-5.227, -2.523], "nice": false, "zero": false}, "axis": null},
        "y2": {"field": "r1"}
      }
    },
    {
      "data": {"name": "ignore"},
      "mark": {"type": "point", "shape": "M0,-1L1,1L0,0.45L-1,1Z", "filled": true, "size": 529, "color": "#A4A8A6", "opacity": 1},
      "encoding": {
        "x": {"field": "m1", "type": "quantitative", "scale": {"domain": [-6, -2.942], "nice": false, "zero": false}, "axis": null},
        "y": {"field": "r1", "type": "quantitative", "scale": {"domain": [-5.227, -2.523], "nice": false, "zero": false}, "axis": null},
        "angle": {"field": "heading", "type": "quantitative", "scale": null}
      }
    },
    {
      "data": {"name": "ignoreLabel"},
      "mark": {"type": "text", "fontSize": 47, "fontWeight": "bold", "color": "#A4A8A6", "align": "center", "baseline": "alphabetic"},
      "encoding": {
        "x": {"field": "m", "type": "quantitative", "scale": {"domain": [-6, -2.942], "nice": false, "zero": false}, "axis": null},
        "y": {"field": "r", "type": "quantitative", "scale": {"domain": [-5.227, -2.523], "nice": false, "zero": false}, "axis": null},
        "text": {"field": "t"}
      }
    },
    {
      "data": {"name": "box"},
      "mark": {"type": "rect", "fill": "white", "stroke": "#C8250A", "strokeWidth": 10},
      "encoding": {
        "x": {"field": "m0", "type": "quantitative", "scale": {"domain": [-6, -2.942], "nice": false, "zero": false}, "axis": null},
        "x2": {"field": "m1"},
        "y": {"field": "r0", "type": "quantitative", "scale": {"domain": [-5.227, -2.523], "nice": false, "zero": false}, "axis": null},
        "y2": {"field": "r1"}
      }
    },
    {
      "data": {"name": "boxText"},
      "mark": {"type": "text", "fontSize": 70, "fontWeight": "bold", "color": "#C8250A", "align": "left", "baseline": "alphabetic"},
      "encoding": {
        "x": {"field": "m", "type": "quantitative", "scale": {"domain": [-6, -2.942], "nice": false, "zero": false}, "axis": null},
        "y": {"field": "r", "type": "quantitative", "scale": {"domain": [-5.227, -2.523], "nice": false, "zero": false}, "axis": null},
        "text": {"field": "t"}
      }
    }
  ],
  "resolve": {"axis": {"x": "independent", "y": "independent"}}
}
